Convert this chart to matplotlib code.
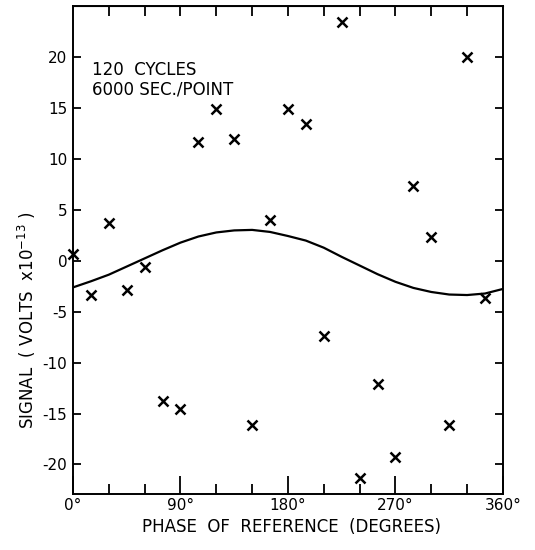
import numpy as np
import matplotlib
matplotlib.use("Agg")
import matplotlib.pyplot as plt

# measured points (phase in degrees, signal in 1e-13 V)
phase = [0, 15, 30, 45, 60, 75, 90, 105, 120, 135, 150, 165,
         180, 195, 210, 225, 240, 255, 270, 285, 300, 315, 330, 345]
signal = [0.7, -3.3, 3.7, -2.9, -0.6, -13.8, -14.5, 11.7, 14.9, 12.0, -16.1, 4.0,
          14.9, 13.5, -7.4, 23.5, -21.3, -12.1, -19.3, 7.4, 2.4, -16.1, 20.0, -3.6]

# fitted curve
fit_phase = [0, 15, 30, 45, 60, 75, 90, 105, 120, 135, 150, 165, 180,
             195, 210, 225, 240, 255, 270, 285, 300, 315, 330, 345, 360]
fit_signal = [-2.6, -2.0, -1.35, -0.55, 0.25, 1.05, 1.8, 2.4, 2.8, 3.0, 3.05, 2.85, 2.45,
              2.0, 1.3, 0.4, -0.45, -1.3, -2.05, -2.65, -3.05, -3.3, -3.35, -3.2, -2.75]

xticks = [0, 90, 180, 270, 360]
xtick_labels = ["0°", "90°", "180°", "270°", "360°"]
yticks = [-20, -15, -10, -5, 0, 5, 10, 15, 20]

plt.rcParams['axes.unicode_minus'] = False
plt.rcParams['font.family'] = ['DejaVu Sans']

fig = plt.figure(figsize=(5.35, 5.5), dpi=100)
ax = fig.add_axes([0.1364, 0.1018, 0.8037, 0.8873])

ax.plot(fit_phase, fit_signal, color="black", lw=1.6)
ax.plot(phase, signal, "x", color="black", ms=7, mew=1.8, clip_on=False)

ax.set_xlim(0, 360)
ax.set_ylim(-22.9, 25.05)

for s in ax.spines.values():
    s.set_linewidth(1.4)

# bottom: long ticks at 90s, short at 30s
ax.set_xticks(xticks)
ax.set_xticklabels(xtick_labels, fontsize=11)
ax.set_xticks(np.arange(30, 360, 30), minor=True)
ax.tick_params(axis="x", which="major", direction="in", length=13, width=1.3, pad=3)
ax.tick_params(axis="x", which="minor", direction="in", length=7, width=1.3)

ax.set_yticks(yticks)
ax.set_yticklabels([str(v) for v in yticks], fontsize=11)
ax.tick_params(axis="y", direction="in", length=6, width=1.3, pad=4,
               right=True)

# top ticks every 30 degrees
top = ax.secondary_xaxis("top")
top.set_xticks(np.arange(30, 360, 30))
top.set_xticklabels([])
top.tick_params(direction="in", length=7, width=1.3)

ax.text(0.044, 0.888, "120  CYCLES\n6000 SEC./POINT", transform=ax.transAxes,
        fontsize=12, va="top", ha="left", linespacing=1.1)

fig.text(0.545, 0.042, "PHASE  OF  REFERENCE  (DEGREES)", fontsize=12,
         ha="center", va="center")
fig.text(0.05, 0.418, "SIGNAL  ( VOLTS  x10$^{-13}$ )", fontsize=12,
         rotation=90, ha="center", va="center")

fig.savefig("out.png", dpi=100)
